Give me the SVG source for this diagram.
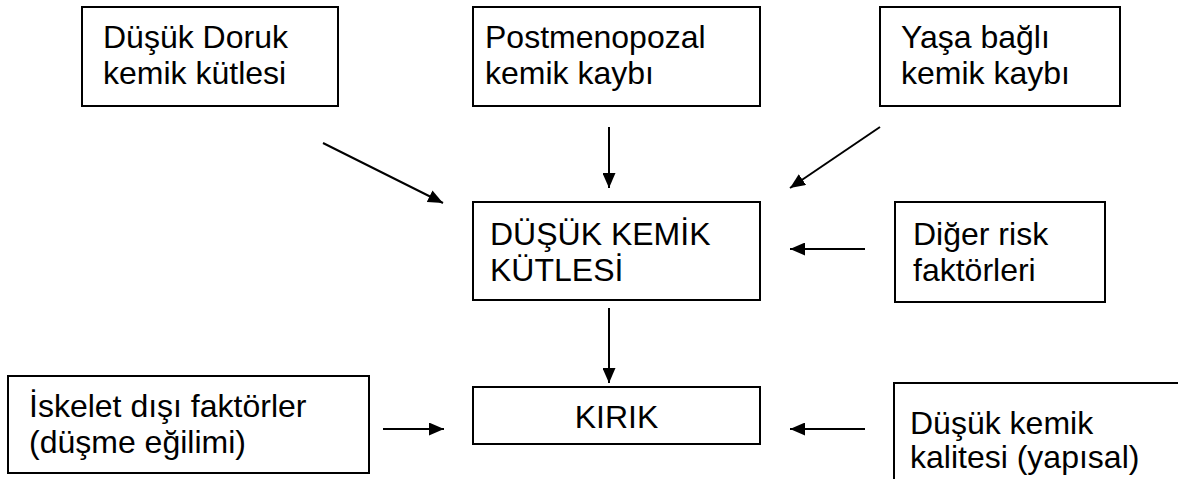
<svg xmlns="http://www.w3.org/2000/svg" width="1178" height="479" viewBox="0 0 1178 479">
<style>
  .box { fill: #ffffff; stroke: #000000; stroke-width: 2; }
  .lbl { font-family: "Liberation Sans", Arial, sans-serif; font-size: 32px; fill: #000000; }
  .conn { stroke: #000000; stroke-width: 2; fill: none; marker-end: url(#ah); }
</style>
<defs>
  <marker id="ah" viewBox="0 0 15 13" refX="15" refY="6.5" markerWidth="15" markerHeight="13" markerUnits="userSpaceOnUse" orient="auto">
    <path d="M0,0 L15,6.5 L0,13 z" fill="#000000"/>
  </marker>
</defs>
<rect width="1178" height="479" fill="#ffffff"/>

<g id="node-dusuk-doruk">
  <rect class="box" x="82" y="7" width="256" height="99"/>
  <text class="lbl" x="103" y="48">Düşük Doruk</text>
  <text class="lbl" x="103" y="84">kemik kütlesi</text>
</g>
<g id="node-postmenopozal">
  <rect class="box" x="473" y="7" width="287" height="99"/>
  <text class="lbl" x="485" y="48">Postmenopozal</text>
  <text class="lbl" x="485" y="84">kemik kaybı</text>
</g>
<g id="node-yasa-bagli">
  <rect class="box" x="880" y="7" width="240" height="99"/>
  <text class="lbl" x="901" y="48">Yaşa bağlı</text>
  <text class="lbl" x="901" y="84">kemik kaybı</text>
</g>
<g id="node-dusuk-kemik-kutlesi">
  <rect class="box" x="473" y="202" width="287" height="98"/>
  <text class="lbl" x="490" y="245">DÜŞÜK KEMİK</text>
  <text class="lbl" x="490" y="281">KÜTLESİ</text>
</g>
<g id="node-diger-risk">
  <rect class="box" x="895" y="202" width="210" height="100"/>
  <text class="lbl" x="913" y="245">Diğer risk</text>
  <text class="lbl" x="913" y="281">faktörleri</text>
</g>
<g id="node-iskelet-disi">
  <rect class="box" x="8" y="376" width="361" height="97"/>
  <text class="lbl" x="29" y="417">İskelet dışı faktörler</text>
  <text class="lbl" x="29" y="453">(düşme eğilimi)</text>
</g>
<g id="node-kirik">
  <rect class="box" x="473" y="387" width="287" height="57"/>
  <text class="lbl" x="616.5" y="428" text-anchor="middle">KIRIK</text>
</g>
<g id="node-dusuk-kalite">
  <rect class="box" x="894" y="383" width="300" height="120"/>
  <text class="lbl" x="910" y="434">Düşük kemik</text>
  <text class="lbl" x="910" y="468">kalitesi (yapısal)</text>
</g>

<g id="connectors">
  <line class="conn" x1="323" y1="143" x2="443" y2="203"/>
  <line class="conn" x1="609" y1="127" x2="609" y2="188"/>
  <line class="conn" x1="880" y1="127" x2="790" y2="188"/>
  <line class="conn" x1="865" y1="249" x2="790" y2="249"/>
  <line class="conn" x1="609" y1="308" x2="609" y2="383"/>
  <line class="conn" x1="383" y1="429" x2="444" y2="429"/>
  <line class="conn" x1="865" y1="429" x2="790" y2="429"/>
</g>
</svg>
